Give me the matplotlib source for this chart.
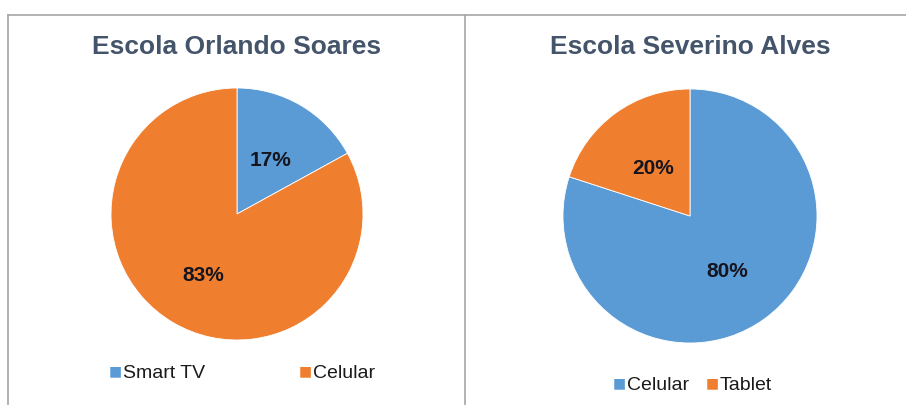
import matplotlib.pyplot as plt
from matplotlib.lines import Line2D
from matplotlib.transforms import offset_copy

# Device share per school (%)
school_titles = ["Escola Orlando Soares", "Escola Severino Alves"]
left_labels = ["Smart TV", "Celular"]
left_values = [17, 83]
right_labels = ["Celular", "Tablet"]
right_values = [80, 20]

BLUE = "#5b9bd5"
ORANGE = "#ef7e2f"
TITLE_COLOR = "#44546a"

W, H = 906, 405
fig = plt.figure(figsize=(W / 100, H / 100), dpi=100)
fig.patch.set_facecolor("white")


def px_axes(cx, cy, r):
    # axes square of radius r around pixel center (cx, cy), y measured from top
    return fig.add_axes([(cx - r) / W, 1 - (cy + r) / H, 2 * r / W, 2 * r / H])


def draw_pie(ax, values, colors, pctdist):
    _, _, autotexts = ax.pie(
        values, colors=colors, startangle=90, counterclock=False,
        autopct="%d%%", pctdistance=pctdist, radius=1.0,
        wedgeprops=dict(edgecolor="white", linewidth=0.6),
        textprops=dict(fontsize=15, fontweight="bold", color="#15151f",
                       family="Liberation Sans"))
    # nudge percentage labels a little lower
    for t in autotexts:
        t.set_transform(offset_copy(ax.transData, fig=fig, x=0, y=-4,
                                    units="dots"))
    ax.set_xlim(-1, 1)
    ax.set_ylim(-1, 1)
    ax.set_aspect("equal")
    ax.axis("off")


ax1 = px_axes(237, 214, 126)
draw_pie(ax1, left_values, [BLUE, ORANGE], 0.53)
ax2 = px_axes(690, 216, 127)
draw_pie(ax2, right_values, [BLUE, ORANGE], 0.5)

# titles
for x, t in zip([237, 690], school_titles):
    fig.text(x / W, 1 - 47 / H, t, ha="center", va="center", fontsize=19,
             fontweight="bold", color=TITLE_COLOR, family="Liberation Sans")

# frame lines
frame = dict(color="#a6a6a6", lw=1.2, transform=fig.transFigure)
fig.add_artist(Line2D([8 / W, 1], [1 - 15 / H] * 2, **frame))
fig.add_artist(Line2D([8 / W] * 2, [0, 1 - 15 / H], **frame))
fig.add_artist(Line2D([465 / W] * 2, [0, 1 - 15 / H], **frame))

# legends
legend_items = [
    (115, 373, left_labels[0], BLUE), (305, 373, left_labels[1], ORANGE),
    (619, 385, right_labels[0], BLUE), (712, 385, right_labels[1], ORANGE),
]
for x, y, label, c in legend_items:
    fig.text(x / W, 1 - (y - 2) / H, "\u25a0", ha="center", va="center",
             fontsize=10, color=c, family="DejaVu Sans")
    fig.text((x + 8) / W, 1 - y / H, label, ha="left", va="center",
             fontsize=14, color="#1a1a1a", family="Liberation Sans")

fig.savefig("out.png", dpi=100)
